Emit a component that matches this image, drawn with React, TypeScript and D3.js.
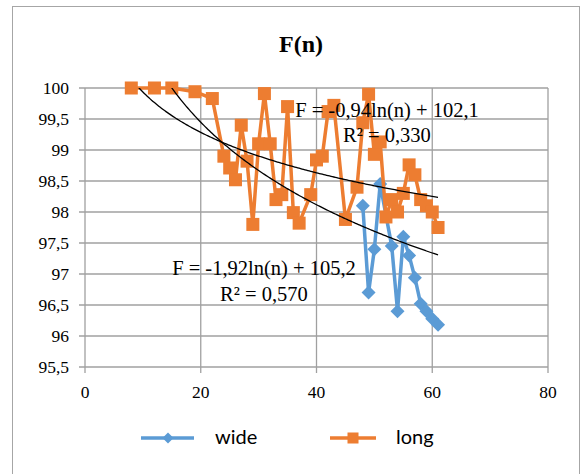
import React from "react";
import * as d3 from "d3";

// series
const wideN = [48, 49, 50, 51, 53, 54, 55, 56, 57, 58, 59, 60, 61];
const wideF = [98.1, 96.7, 97.4, 98.45, 97.45, 96.4, 97.6, 97.3, 96.94, 96.52, 96.4, 96.28, 96.18];

const longN = [8, 12, 15, 19, 22, 24, 25, 26, 27, 28, 29, 30, 31, 32, 33, 34, 35, 36, 37, 39, 40, 41, 42, 43, 45, 47, 48, 49, 50, 51, 52, 53, 54, 55, 56, 57, 58, 59, 60, 61];
const longF = [100, 100, 100, 99.94, 99.83, 98.9, 98.71, 98.52, 99.4, 98.82, 97.8, 99.1, 99.91, 99.1, 98.2, 98.28, 99.7, 97.99, 97.82, 98.28, 98.84, 98.9, 99.62, 99.72, 97.88, 98.4, 99.44, 99.9, 98.93, 99.13, 97.92, 98.2, 98.0, 98.3, 98.76, 98.6, 98.2, 98.1, 98.0, 97.75];

const xTicks = [0, 20, 40, 60, 80];
const yTicks = [95.5, 96, 96.5, 97, 97.5, 98, 98.5, 99, 99.5, 100];

// log trendlines as printed on the chart
const trendWide = { a: -1.92, b: 105.2, label: "F = -1,92ln(n) + 105,2", r2: "R² = 0,570" };
const trendLong = { a: -0.94, b: 102.1, label: "F = -0,94ln(n) + 102,1", r2: "R² = 0,330" };

const W = 585;
const H = 474;
const plot = { left: 85, right: 548, top: 88, bottom: 367 };

const BLUE = "#5B9BD5";
const ORANGE = "#ED7D31";
const GRID = "#a0a0a0";
const serif = "'Liberation Serif', 'Times New Roman', serif";
const sans = "Lato, 'Open Sans', sans-serif";

const fmt = (v: number) => String(v).replace(".", ",");

export default function App() {
  const x = d3.scaleLinear().domain([0, 80]).range([plot.left, plot.right]);
  const y = d3.scaleLinear().domain([95.5, 100]).range([plot.bottom, plot.top]);

  const line = d3
    .line<[number, number]>()
    .x((d) => x(d[0]))
    .y((d) => y(d[1]));

  const wide: [number, number][] = wideN.map((n, i) => [n, wideF[i]]);
  const long: [number, number][] = longN.map((n, i) => [n, longF[i]]);

  const nAll = d3.range(8, 61.01, 0.25);
  const trendPath = (t: { a: number; b: number }) =>
    line(nAll.map((n) => [n, t.a * Math.log(n) + t.b] as [number, number]));

  const diamond = (r: number) => `M0,${-r}L${r},0L0,${r}L${-r},0Z`;
  const sq = 6.5;

  return (
    <svg
      width={W}
      height={H}
      style={{ position: "absolute", left: 0, top: 0, background: "#fff" }}
    >
      <defs>
        <clipPath id="plotClip">
          <rect x={plot.left} y={plot.top} width={plot.right - plot.left} height={plot.bottom - plot.top} />
        </clipPath>
      </defs>
      <rect x={12.5} y={6.5} width={567} height={480} fill="#fff" stroke="#a6a6a6" strokeWidth={1} />

      <text x={301} y={52} textAnchor="middle" fontFamily={serif} fontWeight="bold" fontSize={24}>
        F(n)
      </text>

      {/* grid */}
      {yTicks.map((t) => (
        <g key={"y" + t}>
          <line x1={plot.left - 6} x2={plot.right} y1={y(t)} y2={y(t)} stroke={GRID} strokeWidth={1.3} />
          <text x={69} y={y(t) + 6} textAnchor="end" fontFamily={serif} fontSize={17.5}>
            {fmt(t)}
          </text>
        </g>
      ))}
      {xTicks.map((t) => (
        <g key={"x" + t}>
          <line x1={x(t)} x2={x(t)} y1={plot.top} y2={plot.bottom + 6} stroke={GRID} strokeWidth={1.3} />
          <text x={x(t)} y={398} textAnchor="middle" fontFamily={serif} fontSize={17.5}>
            {t}
          </text>
        </g>
      ))}

      {/* series */}
      <path d={line(wide) ?? ""} fill="none" stroke={BLUE} strokeWidth={3.5} strokeLinejoin="round" />
      {wide.map((d, i) => (
        <path key={"w" + i} d={diamond(7)} transform={`translate(${x(d[0])},${y(d[1])})`} fill={BLUE} />
      ))}
      <path d={line(long) ?? ""} fill="none" stroke={ORANGE} strokeWidth={3.5} strokeLinejoin="round" />
      {long.map((d, i) => (
        <rect key={"l" + i} x={x(d[0]) - sq} y={y(d[1]) - sq} width={sq * 2} height={sq * 2} fill={ORANGE} />
      ))}
      <g clipPath="url(#plotClip)">
        <path d={trendPath(trendWide) ?? ""} fill="none" stroke="#000" strokeWidth={1.3} />
        <path d={trendPath(trendLong) ?? ""} fill="none" stroke="#000" strokeWidth={1.3} />
      </g>

      {/* trendline labels */}
      <text x={387} y={117} textAnchor="middle" fontFamily={serif} fontSize={20.5}>
        {trendLong.label}
      </text>
      <text x={387} y={142} textAnchor="middle" fontFamily={serif} fontSize={20.5}>
        {trendLong.r2}
      </text>
      <text x={264} y={275} textAnchor="middle" fontFamily={serif} fontSize={20.5}>
        {trendWide.label}
      </text>
      <text x={264} y={301} textAnchor="middle" fontFamily={serif} fontSize={20.5}>
        {trendWide.r2}
      </text>

      {/* legend */}
      <g>
        <line x1={141} x2={194} y1={438} y2={438} stroke={BLUE} strokeWidth={3.5} />
        <path d={diamond(5.5)} transform="translate(168,438)" fill={BLUE} />
        <text x={215} y={444} fontFamily={sans} fontSize={20}>
          wide
        </text>
        <line x1={330} x2={376} y1={438} y2={438} stroke={ORANGE} strokeWidth={3.5} />
        <rect x={353 - 5.5} y={438 - 5.5} width={11} height={11} fill={ORANGE} />
        <text x={396} y={444} fontFamily={sans} fontSize={20}>
          long
        </text>
      </g>
    </svg>
  );
}
